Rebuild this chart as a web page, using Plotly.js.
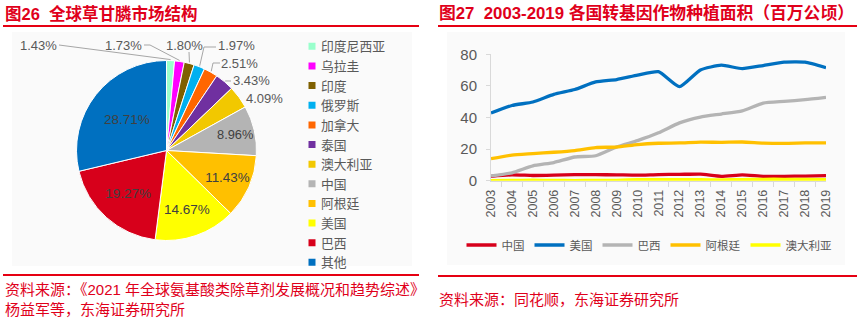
<!DOCTYPE html>
<html>
<head>
<meta charset="utf-8">
<script src="https://cdn.plot.ly/plotly-3.0.1.min.js"></script>
<style>
html,body{margin:0;padding:0;background:#fff;}
#chart{width:857px;height:321px;}
</style>
</head>
<body>
<div id="chart"></div>
<script>
// ---------- Pie data (图26) ----------
var pieLabels = ['印度尼西亚','乌拉圭','印度','俄罗斯','加拿大','泰国','澳大利亚','中国','阿根廷','美国','巴西','其他'];
var pieValues = [1.43, 1.73, 1.80, 1.97, 2.51, 3.43, 4.09, 8.96, 11.43, 14.67, 19.27, 28.71];
var pieColors = ['#99ffcc','#ff00ff','#7f6000','#00b0f0','#ff6600','#7030a0','#f2c800','#b4b4b4','#ffc000','#ffff00','#d7001b','#0070c0'];

// ---------- Line data (图27) ----------
var years = ['2003','2004','2005','2006','2007','2008','2009','2010','2011','2012','2013','2014','2015','2016','2017','2018','2019'];
var china     = [2.8, 3.7, 3.3, 3.5, 3.8, 3.8, 3.7, 3.5, 3.9, 4.0, 4.2, 2.8, 3.7, 2.8, 2.8, 2.9, 3.2];
var usa       = [42.8, 47.6, 49.8, 54.6, 57.7, 62.5, 64.0, 66.8, 69.0, 59.5, 70.1, 73.1, 70.9, 72.9, 75.0, 75.0, 71.5];
var brazil    = [3.0, 5.0, 9.4, 11.5, 15.0, 15.8, 21.4, 25.4, 30.3, 36.6, 40.3, 42.2, 44.2, 49.1, 50.2, 51.3, 52.8];
var argentina = [13.9, 16.2, 17.1, 18.0, 19.1, 21.0, 21.3, 22.9, 23.7, 23.9, 24.4, 24.3, 24.5, 23.8, 23.6, 23.9, 24.0];
var australia = [0.1, 0.2, 0.3, 0.2, 0.1, 0.2, 0.2, 0.7, 0.7, 0.7, 0.6, 0.5, 0.7, 0.9, 0.9, 0.8, 0.6];
var lineNames  = ['中国','美国','巴西','阿根廷','澳大利亚'];
var lineSeries = [china, usa, brazil, argentina, australia];
var lineColors = ['#d7001b','#0070c0','#b4b4b4','#ffc000','#ffff00'];

var W = 857, H = 321;
function px(x){ return x / W; }
function py(y){ return 1 - y / H; }

var FONT = 'Liberation Sans, Arial, Noto Sans CJK SC, sans-serif';
var RED = '#e0001b';
var GRAY = '#595959';

// pie geometry (pixels)
var cx = 166.5, cy = 150.5, r = 90;

// small slices get external labels placed like the original (layout only: label centre + leader bend)
var smallCut = 5;
var extLabelLayout = [
  {tx: 38,  ty: 45, path: [[59, 45]]},
  {tx: 124, ty: 45, path: [[144, 45], [150, 45]]},
  {tx: 184, ty: 45, path: [[189, 52]]},
  {tx: 236, ty: 45, path: [[216, 47], [204, 47]]},
  {tx: 240, ty: 63, path: [[220, 63], [213, 63]]},
  {tx: 251, ty: 81, path: [[231, 81]]},
  {tx: 264, ty: 99, path: []}
];
var textPos = pieValues.map(function(v){ return v < smallCut ? 'none' : 'inside'; });

var traces = [{
  type: 'pie',
  labels: pieLabels,
  values: pieValues,
  sort: false,
  direction: 'clockwise',
  rotation: 0,
  marker: {colors: pieColors, line: {color: '#ffffff', width: 1}},
  texttemplate: '%{value:.2f}%',
  textposition: textPos,
  insidetextorientation: 'horizontal',
  insidetextfont: {family: FONT, size: 13.5, color: '#404040'},
  hoverinfo: 'label+value',
  domain: {x: [px(cx - r), px(cx + r)], y: [py(cy + r), py(cy - r)]},
  legend: 'legend2',
  showlegend: true
}];

for (var i = 0; i < lineNames.length; i++) {
  traces.push({
    type: 'scatter',
    mode: 'lines',
    x: years,
    y: lineSeries[i],
    name: lineNames[i],
    line: {color: lineColors[i], width: 3.3, shape: 'spline', smoothing: 0.5},
    xaxis: 'x', yaxis: 'y',
    legend: 'legend'
  });
}

var shapes = [
  {type:'rect', xref:'paper', yref:'paper', x0:px(12), x1:px(412), y0:py(266), y1:py(32), fillcolor:'#fafafa', line:{width:0}, layer:'below'},
  {type:'rect', xref:'paper', yref:'paper', x0:px(447), x1:px(845), y0:py(265), y1:py(32), fillcolor:'#fafafa', line:{width:0}, layer:'below'},
  {type:'line', xref:'paper', yref:'paper', x0:px(3), x1:px(419), y0:py(26), y1:py(26), line:{color:'#e60012', width:2}},
  {type:'line', xref:'paper', yref:'paper', x0:px(438), x1:px(857), y0:py(26), y1:py(26), line:{color:'#e60012', width:2}},
  {type:'line', xref:'paper', yref:'paper', x0:px(3), x1:px(419), y0:py(275), y1:py(275), line:{color:'#e60012', width:2}},
  {type:'line', xref:'paper', yref:'paper', x0:px(438), x1:px(857), y0:py(276), y1:py(276), line:{color:'#e60012', width:2}}
];

var annotations = [
  {text:'<b>图26  全球草甘膦市场结构</b>', x:px(3), y:py(13), xref:'paper', yref:'paper', xanchor:'left', yanchor:'middle', showarrow:false, font:{family:FONT, size:16.5, color:RED}},
  {text:'<b>图27  2003-2019 各国转基因作物种植面积（百万公顷）</b>', x:px(437), y:py(13), xref:'paper', yref:'paper', xanchor:'left', yanchor:'middle', showarrow:false, font:{family:FONT, size:16.8, color:RED}},
  {text:'资料来源：《2021 年全球氨基酸类除草剂发展概况和趋势综述》', x:px(3), y:py(289), xref:'paper', yref:'paper', xanchor:'left', yanchor:'middle', showarrow:false, font:{family:FONT, size:15, color:RED}},
  {text:'杨益军等，东海证券研究所', x:px(3), y:py(309), xref:'paper', yref:'paper', xanchor:'left', yanchor:'middle', showarrow:false, font:{family:FONT, size:15, color:RED}},
  {text:'资料来源：同花顺，东海证券研究所', x:px(437), y:py(299), xref:'paper', yref:'paper', xanchor:'left', yanchor:'middle', showarrow:false, font:{family:FONT, size:15, color:RED}}
];

// external labels + leader lines, edge point computed from the slice angles
var total = pieValues.reduce(function(a, b){ return a + b; }, 0);
var cum = 0, k = 0;
for (var j = 0; j < pieValues.length; j++) {
  var v = pieValues[j];
  var mid = (cum + v / 2) / total * 2 * Math.PI;
  cum += v;
  if (v >= smallCut) continue;
  var L = extLabelLayout[k++];
  annotations.push({
    text: v.toFixed(2) + '%', x: px(L.tx), y: py(L.ty), xref:'paper', yref:'paper',
    xanchor:'center', yanchor:'middle', showarrow:false,
    font:{family:FONT, size:13, color:GRAY}
  });
  if (L.path.length) {
    var ex = cx + (r + 1) * Math.sin(mid), ey = cy - (r + 1) * Math.cos(mid);
    var pts = L.path.concat([[ex, ey]]);
    var d = 'M' + pts.map(function(p){ return px(p[0]) + ',' + py(p[1]); }).join(' L');
    shapes.push({type:'path', xref:'paper', yref:'paper', path: d, line:{color:'#a6a6a6', width:1}});
  }
}

var layout = {
  width: W, height: H,
  margin: {l:0, r:0, t:0, b:0},
  paper_bgcolor: '#ffffff',
  plot_bgcolor: 'rgba(0,0,0,0)',
  font: {family: FONT, color: GRAY},
  showlegend: true,
  xaxis: {
    type: 'category',
    domain: [px(491), px(826)],
    anchor: 'y',
    showgrid: false, zeroline: false,
    showline: true, linecolor: '#d9d9d9', linewidth: 1,
    ticks: 'outside', ticklen: 5, tickcolor: '#d9d9d9', tickson: 'boundaries',
    tickangle: -90,
    tickfont: {family: FONT, size: 12.5, color: GRAY},
    ticklabelstandoff: 3,
    fixedrange: true
  },
  yaxis: {
    domain: [py(180.7), py(54.3)],
    anchor: 'x',
    range: [0, 80],
    dtick: 20,
    showgrid: false, zeroline: false,
    showline: true, linecolor: '#d9d9d9', linewidth: 1,
    ticks: 'outside', ticklen: 4, tickcolor: '#d9d9d9',
    tickfont: {family: FONT, size: 15, color: GRAY},
    ticklabelstandoff: 6,
    fixedrange: true
  },
  legend: {
    orientation: 'h',
    x: px(649), xanchor: 'center',
    y: py(245), yanchor: 'middle',
    font: {family: FONT, size: 11.5, color: GRAY},
    bgcolor: 'rgba(0,0,0,0)',
    traceorder: 'normal'
  },
  legend2: {
    orientation: 'v',
    x: px(281), xanchor: 'left',
    y: py(31.5), yanchor: 'top',
    font: {family: FONT, size: 12.8, color: GRAY},
    bgcolor: 'rgba(0,0,0,0)',
    traceorder: 'normal'
  },
  shapes: shapes,
  annotations: annotations
};

Plotly.newPlot('chart', traces, layout, {staticPlot: true, displayModeBar: false}).then(function(gd){
  // smaller square legend swatches for the pie, close to their text (as in the original)
  var sw = gd.querySelectorAll('path.legendpie');
  for (var n = 0; n < sw.length; n++) {
    sw[n].setAttribute('d', 'M3.5,3.5H-3.5V-3.5H3.5Z');
    sw[n].setAttribute('transform', 'translate(31,0)');
    sw[n].style.strokeWidth = '0px';
  }
});
</script>
</body>
</html>
